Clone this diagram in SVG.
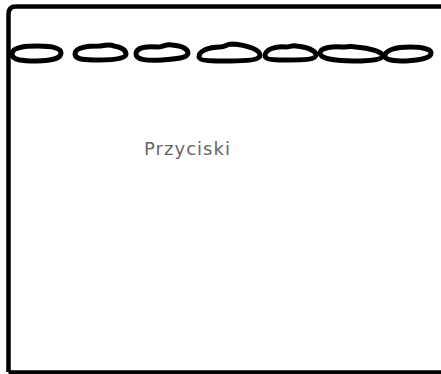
<svg xmlns="http://www.w3.org/2000/svg" width="441" height="374" viewBox="0 0 441 374">
<style>
.frame{fill:none;stroke:#000;stroke-width:4.5;stroke-linejoin:round}
.btn{fill:none;stroke:#000;stroke-width:5;stroke-linecap:round;stroke-linejoin:round}
.lbl{font-family:"Comic Sans MS","DejaVu Sans",sans-serif;font-size:18px;fill:#666}
</style>
<rect width="441" height="374" fill="#fff"/>
<g id="frame">
<path class="frame" d="M8.5,372 L8.5,14 Q8.5,6.5 16,6.5 L445,6.5"/>
<path class="frame" d="M8.5,372.5 L445,372.5"/>
</g>
<g id="buttons">
<path id="b1" class="btn" d="M12,54 C12,46 30,46 38,46 C52,46 61,48 61,53 C61,59 48,61 36,61 C22,61 12,60 12,54 Z"/>
<path id="b2" class="btn" d="M75,54 C75,47 88,46 100,46 C106,45 110,44 114,46 C121,47 126,50 126,54 C126,59 112,60 99,60 C86,60 75,60 75,54 Z"/>
<path id="b3" class="btn" d="M136,54 C136,47 148,46 158,47 C162,47 166,44 172,45 C184,46 188,50 188,53 C188,58 176,59 162,60 C148,61 136,60 136,54 Z"/>
<path id="b4" class="btn" d="M199,57 C199,51 208,47 220,47 C226,47 226,44 232,44 C248,45 260,50 260,55 C260,60 246,61 230,61 C214,61 199,61 199,57 Z"/>
<path id="b5" class="btn" d="M265,56 C265,49 276,46 286,47 C290,47 292,45 296,46 C308,47 316,51 316,55 C316,60 300,60 290,60 C278,60 265,60 265,56 Z"/>
<path id="b6" class="btn" d="M320,53 C320,48 332,46 342,47 C348,47 350,46 356,47 C370,48 383,52 383,56 C383,60 368,61 354,61 C338,61 320,59 320,53 Z"/>
<path id="b7" class="btn" d="M385,56 C385,50 396,47 410,47 C422,47 431,49 431,53 C431,58 420,60 406,61 C394,61 385,60 385,56 Z"/>
</g>
<g id="label">
<text class="lbl" x="144" y="155" textLength="86" lengthAdjust="spacing">Przyciski</text>
</g>
</svg>
